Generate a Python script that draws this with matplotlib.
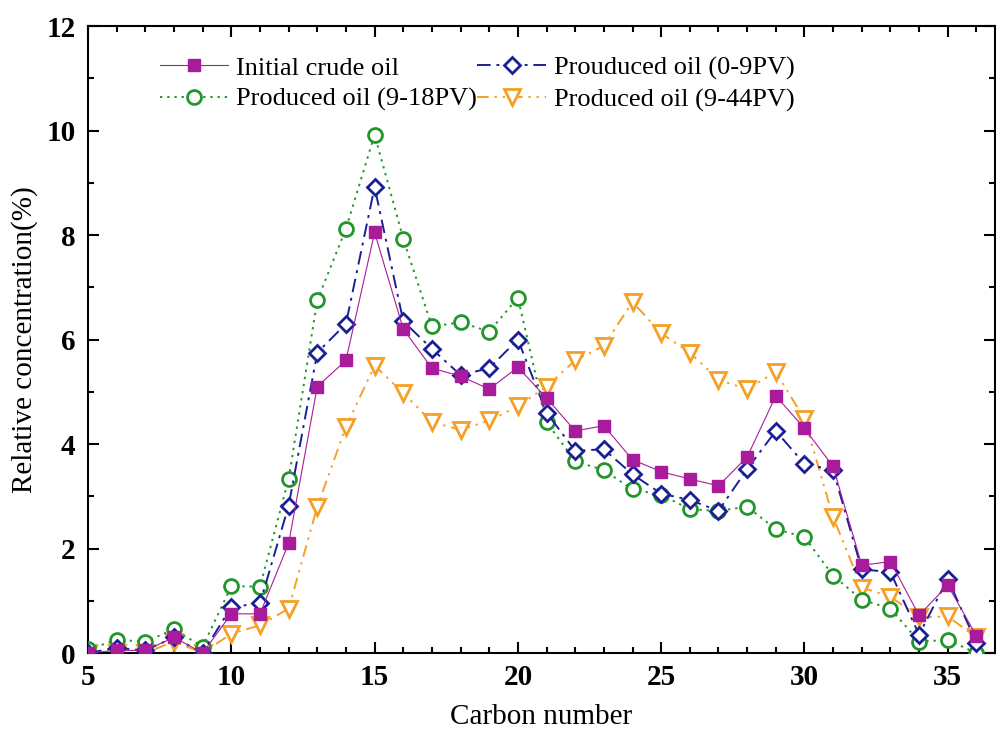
import numpy as np
import matplotlib
matplotlib.use("Agg")
import matplotlib.pyplot as plt
from matplotlib.ticker import MultipleLocator

# carbon numbers and the four distributions
carbon = list(range(5, 37))
initial = [0.0, 0.05, 0.05, 0.3, 0.0, 0.75, 0.75, 2.1, 5.1, 5.6, 8.05, 6.2, 5.45, 5.3, 5.05, 5.47,
           4.88, 4.25, 4.35, 3.7, 3.47, 3.33, 3.2, 3.75, 4.92, 4.3, 3.57, 1.68, 1.75, 0.72, 1.3, 0.33]
pv_0_9 = [0.0, 0.1, 0.05, 0.3, 0.0, 0.88, 0.95, 2.82, 5.75, 6.3, 8.92, 6.35, 5.82, 5.32, 5.45, 6.0,
          4.6, 3.87, 3.9, 3.42, 3.05, 2.93, 2.72, 3.52, 4.25, 3.62, 3.5, 1.6, 1.55, 0.35, 1.42, 0.2]
pv_9_18 = [0.07, 0.25, 0.22, 0.45, 0.12, 1.28, 1.27, 3.33, 6.75, 8.12, 9.92, 7.93, 6.25, 6.33, 6.15, 6.8,
           4.42, 3.67, 3.5, 3.13, 3.03, 2.75, 2.72, 2.8, 2.37, 2.22, 1.48, 1.02, 0.85, 0.22, 0.25, 0.0]
pv_9_44 = [0.0, 0.0, 0.0, 0.22, 0.0, 0.37, 0.53, 0.85, 2.8, 4.33, 5.5, 4.98, 4.42, 4.27, 4.45, 4.72,
           5.1, 5.6, 5.88, 6.72, 6.12, 5.75, 5.23, 5.05, 5.38, 4.48, 2.6, 1.25, 1.08, 0.68, 0.7, 0.3]

plt.rcParams['font.family'] = ['Liberation Serif', 'DejaVu Serif']

fig = plt.figure(figsize=(9.96, 7.31), dpi=100)
ax = fig.add_axes([0.0884, 0.1067, 0.9106, 0.8577])

l1, = ax.plot(carbon, initial, '-', color='#a81c9c', lw=0.8, marker='s', ms=9,
              mfc='#a81c9c', mec='#a81c9c', label='Initial crude oil', zorder=5)
l2, = ax.plot(carbon, pv_0_9, color='#1a1f96', lw=1.4, ls=(0, (7, 3, 1.5, 3)), marker='D', ms=8.5,
              mfc='white', mec='#1a1f96', mew=2, label='Prouduced oil (0-9PV)', zorder=4)
l3, = ax.plot(carbon, pv_9_18, color='#22962a', lw=1.4, ls=(0, (1.2, 2.5)), marker='o', ms=10,
              mfc='white', mec='#22962a', mew=2, label='Produced oil (9-18PV)', zorder=3)
l4, = ax.plot(carbon, pv_9_44, color='#f5a025', lw=1.4, ls=(0, (6, 3, 1.2, 3, 1.2, 3)), marker='v', ms=11,
              mfc='white', mec='#f5a025', mew=2, label='Produced oil (9-44PV)', zorder=2)

ax.set_xlim(5, 36.65)
ax.set_ylim(0, 12)
ax.xaxis.set_major_locator(MultipleLocator(5))
ax.xaxis.set_minor_locator(MultipleLocator(1))
ax.yaxis.set_major_locator(MultipleLocator(2))
ax.yaxis.set_minor_locator(MultipleLocator(1))
ax.tick_params(which='both', direction='in', top=True, right=True, width=1.5)
ax.tick_params(which='major', length=8, labelsize=21)
ax.tick_params(axis='y', which='major', pad=9)
ax.tick_params(axis='x', which='major', pad=8)
ax.tick_params(which='minor', length=4)
for lab in ax.get_xticklabels() + ax.get_yticklabels():
    lab.set_fontweight('bold')
for s in ax.spines.values():
    s.set_linewidth(1.5)

ax.set_xlabel('Carbon number', fontsize=21, labelpad=9)
ax.set_ylabel('Relative concentration(%)', fontsize=21, labelpad=6)

ax.legend([l1, l3, l2, l4], [l.get_label() for l in (l1, l3, l2, l4)],
          loc='upper left', bbox_to_anchor=(0.053, 0.99), ncol=2, frameon=False, fontsize=19,
          handlelength=2.6, handletextpad=0.3, columnspacing=0.0, labelspacing=0.3)

fig.savefig('out.png', dpi=100)
